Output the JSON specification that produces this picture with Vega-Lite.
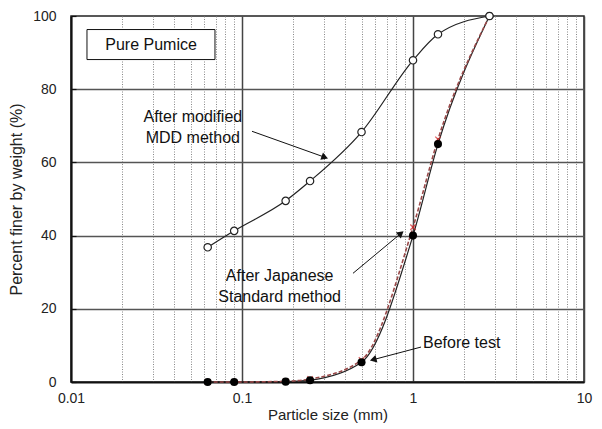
{
  "$schema": "https://vega.github.io/schema/vega-lite/v6.json",
  "width": 513,
  "height": 366,
  "autosize": {"type": "none"},
  "padding": {"left": 71, "top": 16, "right": 18, "bottom": 47},
  "background": "white",
  "config": {
    "view": {"stroke": "#222", "strokeWidth": 1.5},
    "font": "Liberation Sans",
    "axis": {"labelFont": "Liberation Sans", "titleFont": "Liberation Sans", "titleFontWeight": "normal", "labelColor": "#222", "titleColor": "#222"}
  },
  "datasets": {
    "grad": [
      {"series": "MDD", "size": 0.063, "pct": 36.8},
      {"series": "MDD", "size": 0.09, "pct": 41.3},
      {"series": "MDD", "size": 0.18, "pct": 49.5},
      {"series": "MDD", "size": 0.25, "pct": 54.9},
      {"series": "MDD", "size": 0.5, "pct": 68.3},
      {"series": "MDD", "size": 1.0, "pct": 87.9},
      {"series": "MDD", "size": 1.4, "pct": 95.0},
      {"series": "MDD", "size": 2.8, "pct": 100},
      {"series": "Before", "size": 0.063, "pct": 0},
      {"series": "Before", "size": 0.09, "pct": 0},
      {"series": "Before", "size": 0.18, "pct": 0.1},
      {"series": "Before", "size": 0.25, "pct": 0.5},
      {"series": "Before", "size": 0.5, "pct": 5.4},
      {"series": "Before", "size": 1.0, "pct": 40},
      {"series": "Before", "size": 1.4, "pct": 65},
      {"series": "Before", "size": 2.8, "pct": 100},
      {"series": "JIS", "size": 0.063, "pct": 0},
      {"series": "JIS", "size": 0.09, "pct": 0},
      {"series": "JIS", "size": 0.18, "pct": 0.2},
      {"series": "JIS", "size": 0.25, "pct": 0.8},
      {"series": "JIS", "size": 0.5, "pct": 6.0},
      {"series": "JIS", "size": 1.0, "pct": 42.3},
      {"series": "JIS", "size": 1.4, "pct": 66.3},
      {"series": "JIS", "size": 2.8, "pct": 100}
    ],
    "labels": [
      {"text": "After modified", "x": 0.0516, "y": 72.3, "align": "center"},
      {"text": "MDD method", "x": 0.0516, "y": 66.8, "align": "center"},
      {"text": "After Japanese", "x": 0.166, "y": 28.9, "align": "center"},
      {"text": "Standard method", "x": 0.166, "y": 23.2, "align": "center"}
    ],
    "arrows": [
      {"x": 0.1144, "y": 68.5, "x2": 0.305, "y2": 61.4, "angle": 19.8},
      {"x": 0.4457, "y": 29.7, "x2": 0.85, "y2": 40.6, "angle": -40},
      {"x": 1.114, "y": 9.55, "x2": 0.585, "y2": 6.1, "angle": 165.4}
    ]
  },
  "layer": [
    {
      "data": {"values": [{"x": 0.0124, "x2": 0.0695, "y": 88.1, "y2": 96.3}]},
      "mark": {"type": "rect", "fill": "white", "stroke": "#111", "strokeWidth": 1},
      "encoding": {
        "x": {"field": "x", "type": "quantitative", "scale": {"type": "log", "domain": [0.01, 10]},
          "axis": {
            "values": [0.01,0.02,0.03,0.04,0.05,0.06,0.07,0.08,0.09,0.1,0.2,0.3,0.4,0.5,0.6,0.7,0.8,0.9,1,2,3,4,5,6,7,8,9,10],
            "format": "~g",
            "labelExpr": "abs(log(datum.value)/LN10 - round(log(datum.value)/LN10)) < 0.001 ? datum.label : ''",
            "labelOverlap": false, "labelFlush": false,
            "labelFontSize": 14, "labelPadding": 9,
            "ticks": false,
            "domainColor": "#111", "domainWidth": 2,
            "grid": true,
            "gridColor": {"condition": {"test": "abs(log(datum.value)/LN10 - round(log(datum.value)/LN10)) < 0.001", "value": "#444"}, "value": "#888"},
            "gridDash": {"condition": {"test": "abs(log(datum.value)/LN10 - round(log(datum.value)/LN10)) < 0.001", "value": []}, "value": [1, 1.5]},
            "gridWidth": {"condition": {"test": "abs(log(datum.value)/LN10 - round(log(datum.value)/LN10)) < 0.001", "value": 1.5}, "value": 1},
            "title": "Particle size (mm)", "titleFontSize": 15, "titlePadding": 2
          }},
        "x2": {"field": "x2"},
        "y": {"field": "y", "type": "quantitative", "scale": {"domain": [0, 100]},
          "axis": {
            "values": [0,5,10,15,20,25,30,35,40,45,50,55,60,65,70,75,80,85,90,95,100],
            "labelExpr": "datum.value % 20 == 0 ? datum.label : ''",
            "labelOverlap": false, "labelFlush": false,
            "labelFontSize": 14, "labelPadding": 20,
            "ticks": true, "tickSize": -5, "tickColor": "#111", "tickWidth": 1.2,
            "domainColor": "#111", "domainWidth": 2,
            "grid": true,
            "gridColor": "#555", "gridWidth": 1.5,
            "gridOpacity": {"condition": {"test": "datum.value % 20 == 0 && datum.value > 0 && datum.value < 100", "value": 1}, "value": 0},
            "title": "Percent finer by weight (%)", "titleFontSize": 16, "titlePadding": 8
          }},
        "y2": {"field": "y2"}
      }
    },
    {
      "data": {"values": [{"text": "Pure Pumice", "x": 0.0294, "y": 92.2}]},
      "mark": {"type": "text", "fontSize": 16, "font": "Liberation Sans", "color": "#111", "baseline": "middle"},
      "encoding": {"x": {"field": "x", "type": "quantitative"}, "y": {"field": "y", "type": "quantitative"}, "text": {"field": "text"}}
    },
    {
      "data": {"name": "grad"},
      "transform": [{"filter": "datum.series == 'MDD'"}],
      "mark": {"type": "line", "interpolate": "monotone", "color": "#222", "strokeWidth": 1.2},
      "encoding": {"x": {"field": "size", "type": "quantitative"}, "y": {"field": "pct", "type": "quantitative"}}
    },
    {
      "data": {"name": "grad"},
      "transform": [{"filter": "datum.series == 'Before'"}],
      "mark": {"type": "line", "interpolate": "monotone", "color": "#222", "strokeWidth": 1.2},
      "encoding": {"x": {"field": "size", "type": "quantitative"}, "y": {"field": "pct", "type": "quantitative"}}
    },
    {
      "data": {"name": "grad"},
      "transform": [{"filter": "datum.series == 'JIS'"}],
      "mark": {"type": "line", "interpolate": "monotone", "color": "#9a4a4a", "strokeWidth": 1.6, "strokeDash": [4, 2]},
      "encoding": {"x": {"field": "size", "type": "quantitative"}, "y": {"field": "pct", "type": "quantitative"}}
    },
    {
      "data": {"name": "grad"},
      "transform": [{"filter": "datum.series == 'JIS'"}],
      "mark": {"type": "point", "shape": "M-1,-1L1,1M-1,1L1,-1", "color": "#d02020", "strokeWidth": 1.3, "size": 30, "filled": false},
      "encoding": {"x": {"field": "size", "type": "quantitative"}, "y": {"field": "pct", "type": "quantitative"}}
    },
    {
      "data": {"name": "grad"},
      "transform": [{"filter": "datum.series == 'Before'"}],
      "mark": {"type": "point", "shape": "circle", "filled": true, "color": "#000", "size": 65, "opacity": 1},
      "encoding": {"x": {"field": "size", "type": "quantitative"}, "y": {"field": "pct", "type": "quantitative"}}
    },
    {
      "data": {"name": "grad"},
      "transform": [{"filter": "datum.series == 'MDD'"}],
      "mark": {"type": "point", "shape": "circle", "filled": true, "fill": "white", "stroke": "#222", "strokeWidth": 1.2, "size": 55, "opacity": 1},
      "encoding": {"x": {"field": "size", "type": "quantitative"}, "y": {"field": "pct", "type": "quantitative"}}
    },
    {
      "data": {"name": "labels"},
      "mark": {"type": "text", "fontSize": 16, "font": "Liberation Sans", "color": "#111", "baseline": "middle", "align": "center"},
      "encoding": {"x": {"field": "x", "type": "quantitative"}, "y": {"field": "y", "type": "quantitative"}, "text": {"field": "text"}}
    },
    {
      "data": {"values": [{"text": "Before test", "x": 1.144, "y": 10.6}]},
      "mark": {"type": "text", "fontSize": 16, "font": "Liberation Sans", "color": "#111", "baseline": "middle", "align": "left"},
      "encoding": {"x": {"field": "x", "type": "quantitative"}, "y": {"field": "y", "type": "quantitative"}, "text": {"field": "text"}}
    },
    {
      "data": {"name": "arrows"},
      "mark": {"type": "rule", "color": "#111", "strokeWidth": 1},
      "encoding": {"x": {"field": "x", "type": "quantitative"}, "y": {"field": "y", "type": "quantitative"}, "x2": {"field": "x2"}, "y2": {"field": "y2"}}
    },
    {
      "data": {"name": "arrows"},
      "mark": {"type": "point", "shape": "triangle-right", "filled": true, "color": "#111", "size": 60, "opacity": 1},
      "encoding": {"x": {"field": "x2", "type": "quantitative"}, "y": {"field": "y2", "type": "quantitative"}, "angle": {"field": "angle", "type": "quantitative", "scale": null}}
    }
  ]
}
